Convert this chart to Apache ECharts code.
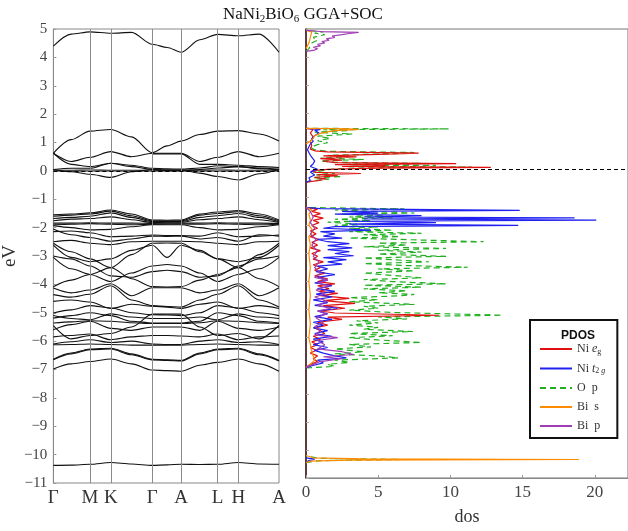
<!DOCTYPE html>
<html><head><meta charset="utf-8">
<script src="https://cdn.jsdelivr.net/npm/echarts@6/dist/echarts.min.js"></script>
<style>html,body{margin:0;padding:0;background:#fff}#c{width:628px;height:531px}</style>
</head><body><div id="c"></div>
<script>
// ---- k-path ----
const kPos = [0,18,37,58,79,100,115,129,148,166,187,208,228];
const kTickPos = [0,37,58,100,129,166,187,228];
const kTickLabels = ['Γ','M','K','Γ','A','L','H','A'];
const yTicks = [-11,-10,-9,-8,-7,-6,-5,-4,-3,-2,-1,0,1,2,3,4,5];
const dosTicks = [0,5,10,15,20];

// ---- bands (eV at kPos; null = not drawn) ----
const bandsCond = [
 [4.40,4.82,4.90,4.85,4.88,4.46,4.35,4.18,4.62,4.81,4.76,4.82,4.18]
];
const bandsFermi = [
 [0.62,1.10,1.40,1.46,1.20,0.64,0.88,1.05,1.28,1.40,1.42,1.30,1.05],
 [0.62,0.33,0.48,0.68,0.50,0.62,0.62,0.62,0.33,0.48,0.68,0.50,0.62],
 [0.62,0.23,0.15,0.27,0.15,0.05,0.03,0.03,-0.08,-0.20,-0.32,-0.10,0.05],
 [0.05,0.09,0.09,0.27,0.20,0.09,0.07,0.06,0.10,0.18,0.15,0.10,0.06],
 [0.05,-0.03,-0.12,-0.23,-0.03,0.05,0.03,0.02,0.05,0.10,0.15,0.08,0.03],
 [0.02,0.02,0.03,0.02,0.02,0.02,0.01,0.01,0.02,0.03,0.02,0.02,0.02],
 [null,null,null,null,null,0.60,0.60,0.60,0.23,0.23,0.20,0.15,0.12]
];
const bandsTop = [
 [-1.55,-1.52,-1.48,-1.38,-1.52,-1.73,-1.74,-1.73,-1.52,-1.45,-1.40,-1.52,-1.73],
 [-1.60,-1.56,-1.52,-1.42,-1.58,-1.76,-1.77,-1.76,-1.56,-1.50,-1.44,-1.58,-1.76],
 [-1.68,-1.64,-1.60,-1.48,-1.64,-1.79,-1.79,-1.79,-1.64,-1.58,-1.50,-1.64,-1.79],
 [-1.76,-1.70,-1.68,-1.62,-1.72,-1.82,-1.81,-1.81,-1.72,-1.68,-1.62,-1.72,-1.82],
 [-1.84,-1.84,-1.83,-1.84,-1.84,-1.85,-1.84,-1.84,-1.84,-1.83,-1.84,-1.84,-1.85],
 [-1.90,-1.88,-1.86,-1.88,-1.90,-1.88,-1.87,-1.87,-1.88,-1.86,-1.88,-1.90,-1.88],
 [-1.93,-2.00,-2.08,-2.06,-1.97,-1.90,-1.90,-1.90,-2.00,-2.08,-2.06,-1.97,-1.90],
 [-2.14,-2.12,-2.18,-2.32,-2.30,-2.26,-2.28,-2.28,-2.30,-2.18,-2.32,-2.30,-2.26],
 [-2.05,-2.25,-2.35,-2.48,-2.40,-2.30,-2.31,-2.30,-2.40,-2.35,-2.48,-2.25,-2.30]
];
const bandsMid = [
 [-2.55,-2.85,-3.10,-3.41,-2.95,-2.55,-2.54,-2.55,-2.85,-3.10,-3.41,-2.95,-2.55],
 [-4.08,-3.85,-3.65,-3.41,-3.80,-4.08,-4.09,-4.08,-3.85,-3.65,-3.41,-3.80,-4.08],
 [-2.50,-2.45,-2.55,-2.60,-2.50,-2.48,-2.48,-2.48,-2.50,-2.55,-2.60,-2.50,-2.48],
 [-2.62,-3.05,-3.20,-3.10,-2.80,-2.62,-3.05,-2.62,-2.80,-3.10,-3.20,-3.05,-2.62],
 [-3.00,-3.10,-3.35,-3.70,-3.75,-3.55,-3.50,-3.55,-3.75,-3.70,-3.35,-3.10,-3.00],
 [-3.05,-3.45,-3.65,-3.90,-3.60,-3.35,-3.30,-3.35,-3.60,-3.90,-3.65,-3.45,-3.05]
];
const bandsLow = [
 [-4.13,-4.30,-4.20,-3.98,-4.40,-4.12,-4.12,-4.12,-4.30,-4.20,-3.98,-4.40,-4.12],
 [-4.36,-4.45,-4.35,-4.05,-4.55,-4.75,-4.78,-4.80,-4.55,-4.35,-4.05,-4.55,-4.80],
 [-4.60,-4.55,-4.62,-4.85,-4.70,-4.77,-4.80,-4.85,-4.70,-4.62,-4.85,-4.75,-4.85],
 [-5.01,-4.90,-4.75,-4.83,-5.00,-5.07,-5.08,-5.10,-5.00,-4.75,-4.83,-5.00,-5.10],
 [-5.10,-5.20,-5.25,-5.04,-5.15,-5.20,-5.20,-5.20,-5.15,-5.25,-5.04,-5.15,-5.20],
 [-5.19,-5.10,-5.00,-5.10,-5.30,-5.36,-5.36,-5.36,-5.30,-5.00,-5.10,-5.30,-5.36],
 [-5.36,-5.32,-5.28,-5.30,-5.35,-5.38,-5.38,-5.38,-5.35,-5.28,-5.30,-5.35,-5.38],
 [-5.60,-5.42,-5.30,-5.55,-5.62,-5.50,-5.50,-5.50,-5.62,-5.30,-5.55,-5.62,-5.50],
 [-5.45,-5.92,-5.80,-5.73,-5.50,-5.05,-5.05,-5.05,-5.50,-5.80,-5.73,-5.92,-5.45],
 [-5.85,-5.80,-5.75,-5.95,-5.85,-5.80,-5.80,-5.82,-5.85,-5.75,-5.95,-5.85,-5.82],
 [-6.13,-6.12,-6.10,-6.12,-6.14,-6.14,-6.14,-6.14,-6.12,-6.10,-6.12,-6.14,-6.14],
 [-6.10,-6.02,-5.95,-6.05,-6.00,-6.10,-6.12,-6.12,-6.00,-5.95,-6.05,-6.02,-6.12],
 [-6.64,-6.42,-6.28,-6.25,-6.45,-6.64,-6.66,-6.68,-6.42,-6.28,-6.25,-6.45,-6.68],
 [-6.66,-6.45,-6.30,-6.28,-6.48,-6.66,-6.68,-6.70,-6.45,-6.30,-6.28,-6.48,-6.70],
 [-6.98,-6.80,-6.72,-6.63,-6.80,-7.02,-7.04,-7.06,-6.85,-6.75,-6.63,-6.80,-7.06]
];
const bandsBis = [
 [-10.38,-10.37,-10.34,-10.28,-10.33,-10.38,-10.36,-10.34,-10.35,-10.34,-10.28,-10.33,-10.34]
];

// ---- PDOS: [energy (eV), dos] ----
const egCond = [[-0.46,0],[-0.40,0.8],[-0.34,1.4],[-0.29,0.6],[-0.23,2.2],[-0.19,0.8],[-0.15,3.8],[-0.11,0.7],[-0.05,0.4],[0.0,1.5],[0.04,5],[0.07,12.8],[0.10,2.5],[0.14,5.5],[0.17,2],[0.20,10.4],[0.24,2],[0.29,1.2],[0.33,2.5],[0.38,1.0],[0.44,3.5],[0.48,1.2],[0.53,5],[0.58,7.8],[0.62,1.5],[0.66,0.6],[0.72,0.3],[0.85,0.4],[1.0,0.3],[1.15,0.5],[1.3,0.3],[1.42,0.5],[1.46,0]];
const egVal = [[-7.05,0],[-6.95,0.3],[-6.85,0.8],[-6.75,0.5],[-6.65,0.8],[-6.55,0.3],[-6.45,0.7],[-6.35,0.3],[-6.25,0.8],[-6.15,0.4],[-6.05,1.0],[-5.95,0.5],[-5.85,1.3],[-5.75,1.0],[-5.65,0.6],[-5.55,1.5],[-5.45,0.8],[-5.35,2.5],[-5.27,1.5],[-5.2,9.2],[-5.12,2.0],[-5.05,1.0],[-4.95,2.7],[-4.86,1.2],[-4.78,3.4],[-4.68,1.2],[-4.6,3.0],[-4.5,1.0],[-4.42,2.2],[-4.35,0.9],[-4.25,1.6],[-4.15,0.8],[-4.08,2.0],[-4.0,0.8],[-3.9,1.5],[-3.8,0.6],[-3.7,1.3],[-3.6,0.6],[-3.5,1.0],[-3.4,0.5],[-3.3,1.2],[-3.2,0.5],[-3.1,0.8],[-3.0,0.4],[-2.9,1.0],[-2.8,0.3],[-2.7,0.8],[-2.6,0.4],[-2.5,0.9],[-2.4,0.3],[-2.3,0.7],[-2.2,0.3],[-2.1,0.8],[-2.0,0.4],[-1.9,0.9],[-1.82,0.5],[-1.74,1.2],[-1.66,0.5],[-1.58,1.0],[-1.5,0.4],[-1.42,0.8],[-1.36,0]];
const t2gCond = [[-0.46,0],[-0.4,0.3],[-0.3,0.2],[-0.2,0.6],[-0.1,0.3],[0.0,0.8],[0.1,0.3],[0.2,0.5],[0.3,0.6],[0.5,0.3],[0.7,0.1],[0.9,0.3],[1.0,0.5],[1.1,0.4],[1.2,0.6],[1.3,0.9],[1.38,0.6],[1.42,1.0],[1.46,0]];
const t2gVal = [[-7.08,0],[-7.0,0.4],[-6.9,1.2],[-6.8,0.8],[-6.72,2.8],[-6.65,2.0],[-6.55,1.2],[-6.45,0.6],[-6.35,1.5],[-6.25,0.5],[-6.15,1.2],[-6.05,0.5],[-5.95,1.8],[-5.85,0.6],[-5.75,1.5],[-5.65,0.5],[-5.55,1.2],[-5.45,0.5],[-5.35,1.8],[-5.25,0.6],[-5.15,1.5],[-5.05,0.8],[-4.95,2.2],[-4.85,0.6],[-4.75,1.5],[-4.65,0.5],[-4.55,1.8],[-4.45,0.7],[-4.35,2.0],[-4.25,0.8],[-4.15,1.8],[-4.05,0.6],[-3.95,1.5],[-3.85,0.8],[-3.75,2.0],[-3.65,0.7],[-3.55,1.5],[-3.45,0.8],[-3.38,2.5],[-3.3,1.5],[-3.22,2.8],[-3.15,1.2],[-3.08,3.3],[-3.0,2.0],[-2.93,3.0],[-2.86,1.5],[-2.8,3.2],[-2.72,1.5],[-2.65,3.0],[-2.58,1.5],[-2.5,0.8],[-2.45,2.5],[-2.38,1.2],[-2.3,2.0],[-2.22,1.0],[-2.17,4.5],[-2.1,1.2],[-2.04,2.0],[-2.0,14.7],[-1.95,3.0],[-1.9,9.0],[-1.85,3.0],[-1.81,20.1],[-1.77,4.0],[-1.73,18.6],[-1.7,4.0],[-1.65,8.0],[-1.6,2.0],[-1.56,5.0],[-1.5,2.5],[-1.46,14.8],[-1.4,1.0],[-1.36,0]];
const t2gBis = [[-10.44,0],[-10.38,0.2],[-10.33,0.6],[-10.28,0]];
const opTop = [[4.2,0],[4.3,0.2],[4.4,0.3],[4.5,0.4],[4.6,0.8],[4.7,0.5],[4.8,1.3],[4.85,0.6],[4.9,1.2],[4.95,0]];
const opCond = [[-0.46,0],[-0.40,0.6],[-0.35,1.6],[-0.3,0.5],[-0.26,2.5],[-0.2,0.7],[-0.15,2.0],[-0.1,0.5],[-0.03,0.4],[0.02,2],[0.05,4],[0.08,11.5],[0.11,3],[0.14,9],[0.18,2.5],[0.21,8],[0.25,2],[0.3,1],[0.35,4],[0.4,1],[0.45,3],[0.5,1.5],[0.56,6],[0.6,7.5],[0.64,1.5],[0.7,0.6],[0.78,0.3],[0.88,0.8],[0.95,1.5],[1.02,0.8],[1.1,1.7],[1.18,0.8],[1.26,3.2],[1.32,0.6],[1.38,3.0],[1.41,1.2],[1.44,9.9],[1.46,0]];
const opVal = [[-7.08,0],[-7.02,2],[-6.95,1.5],[-6.88,3],[-6.8,2],[-6.72,6.4],[-6.65,5],[-6.58,2],[-6.5,4],[-6.4,2],[-6.33,4.5],[-6.24,3],[-6.17,8],[-6.08,5],[-6.0,3],[-5.93,6],[-5.85,3],[-5.78,7.4],[-5.7,4],[-5.63,5],[-5.55,3],[-5.47,5],[-5.4,3.5],[-5.33,7],[-5.26,5],[-5.2,13.6],[-5.1,6],[-5.02,3],[-4.95,5],[-4.88,4],[-4.81,7.5],[-4.72,3],[-4.65,5],[-4.57,3],[-4.51,6.5],[-4.46,7.5],[-4.4,5],[-4.33,7],[-4.26,4],[-4.2,8],[-4.13,4],[-4.08,9.7],[-4.0,6],[-3.93,4],[-3.87,8],[-3.78,6],[-3.7,4],[-3.62,7.5],[-3.55,5],[-3.49,11.2],[-3.43,7],[-3.36,4],[-3.3,8.5],[-3.22,6],[-3.16,4],[-3.1,9.7],[-3.02,5],[-2.95,8],[-2.88,5],[-2.82,9.7],[-2.76,4],[-2.7,7],[-2.63,5],[-2.58,12.3],[-2.52,8],[-2.45,3],[-2.4,6.5],[-2.33,4],[-2.28,8],[-2.22,3],[-2.17,6],[-2.1,3],[-2.05,5],[-2.0,2],[-1.95,3.5],[-1.88,1.5],[-1.83,4.5],[-1.78,2],[-1.73,6],[-1.7,3],[-1.66,5.4],[-1.6,2.5],[-1.56,7.5],[-1.5,4.5],[-1.45,2],[-1.41,6.8],[-1.36,0]];
const opBis = [[-10.45,0],[-10.38,1],[-10.34,6.6],[-10.3,1],[-10.22,0]];
const bisTop = [[4.3,0],[4.5,0.2],[4.7,0.3],[4.9,0.4],[4.95,0]];
const bisCond = [[0.9,0],[1.0,0.3],[1.1,0.5],[1.2,0.6],[1.28,1.0],[1.34,1.6],[1.38,2.0],[1.42,3.65],[1.44,3.0],[1.46,0]];
const bisVal = [[-7.05,0],[-7.0,0.2],[-6.8,0.6],[-6.5,0.4],[-6.0,0.2],[-5.5,0.3],[-5.0,0.2],[-4.5,0.3],[-4.0,0.2],[-3.5,0.3],[-3.0,0.2],[-2.7,0.3],[-2.4,0.2],[-2.2,0.5],[-2.0,0.2],[-1.8,0.3],[-1.6,0.2],[-1.45,0.4],[-1.36,0]];
const bisBis = [[-10.45,0],[-10.4,0.3],[-10.36,3],[-10.34,18.9],[-10.32,4],[-10.28,0.5],[-10.2,0]];
const bipTop = [[4.2,0],[4.25,0.6],[4.3,0.8],[4.35,0.5],[4.4,1.0],[4.45,0.8],[4.5,1.3],[4.55,1.1],[4.6,1.6],[4.65,1.4],[4.7,2.0],[4.75,1.8],[4.8,2.5],[4.84,3.0],[4.88,3.65],[4.91,1.0],[4.95,0]];
const bipVal = [[-7.05,0],[-6.95,0.5],[-6.85,1.0],[-6.75,2.5],[-6.68,1.2],[-6.6,3.3],[-6.5,2.5],[-6.4,0.8],[-6.25,1.3],[-6.1,0.8],[-6.0,2.2],[-5.9,0.6],[-5.75,1.0],[-5.6,0.6],[-5.45,1.2],[-5.3,0.7],[-5.15,1.4],[-5.05,0.8],[-4.95,1.7],[-4.85,0.8],[-4.7,1.5],[-4.55,0.6],[-4.45,1.3],[-4.3,0.7],[-4.15,1.6],[-4.05,0.8],[-3.95,1.5],[-3.85,0.6],[-3.7,1.0],[-3.5,0.6],[-3.3,0.9],[-3.1,0.5],[-2.9,0.8],[-2.7,0.4],[-2.5,0.7],[-2.3,0.3],[-2.1,0.6],[-1.9,0.3],[-1.7,0.5],[-1.5,0.3],[-1.36,0]];

const SERIF = 'Liberation Serif, DejaVu Serif, serif';
const chart = echarts.init(document.getElementById('c'), null, {renderer:'canvas'});

const allBands = [].concat(bandsCond, bandsFermi, bandsTop, bandsMid, bandsLow, bandsBis);
const series = [];
allBands.forEach((b, bi) => {
  const data = [];
  kPos.forEach((k, i) => { if (b[i] !== null) data.push([k, b[i]]); });
  const s = {
    type:'line', xAxisIndex:0, yAxisIndex:0, data, smooth:0.3, smoothMonotone:'x',
    showSymbol:false, symbol:'none', silent:true, animation:false,
    lineStyle:{color:'#111', width:1.1}
  };
  if (bi === 0) {
    s.markLine = {
      silent:true, symbol:['none','none'], animation:false,
      data: kTickPos.map((k, i) => {
        const edge = (i===0||i===kTickPos.length-1);
        return {
          xAxis:k, name:kTickLabels[i],
          lineStyle:{color: edge ? 'rgba(0,0,0,0)' : '#8a8a8a', width:1, type:'solid'},
          label:{show:true, position:'start', formatter:kTickLabels[i], distance:6,
                 fontFamily:SERIF, fontSize:19, color:'#333'}
        };
      }).concat([{yAxis:0, lineStyle:{color:'#000', width:1.2, type:[4,3]}, label:{show:false}}])
    };
  }
  series.push(s);
});

function dosSeries(name, color, arr, dashed, extra) {
  const s = {
    type:'line', name, xAxisIndex:1, yAxisIndex:1,
    data: arr.map(p => [p[1], p[0]]),
    showSymbol:false, symbol:'none', silent:true, animation:false,
    lineStyle:{color, width:1.2, type: dashed ? [6,4] : 'solid'},
    itemStyle:{color}
  };
  if (extra) Object.assign(s, extra);
  return s;
}
const RED='#e01010', BLUE='#2020f0', GREEN='#22b022', ORANGE='#ff8c00', PURPLE='#a03cb4';
series.push(dosSeries('O p', GREEN, opVal, true));
series.push(dosSeries('O p', GREEN, opCond, true));
series.push(dosSeries('O p', GREEN, opTop, true));
series.push(dosSeries('O p', GREEN, opBis, true));
series.push(dosSeries('Ni eg', RED, egVal, false));
series.push(dosSeries('Ni eg', RED, egCond, false));
series.push(dosSeries('Ni t2g', BLUE, t2gVal, false));
series.push(dosSeries('Ni t2g', BLUE, t2gCond, false));
series.push(dosSeries('Ni t2g', BLUE, t2gBis, false));
series.push(dosSeries('Bi s', ORANGE, bisVal, false));
series.push(dosSeries('Bi s', ORANGE, bisCond, false));
series.push(dosSeries('Bi s', ORANGE, bisTop, false));
series.push(dosSeries('Bi s', ORANGE, bisBis, false));
series.push(dosSeries('Bi p', PURPLE, bipVal, false));
series.push(dosSeries('Bi p', PURPLE, bipTop, false, {
  markLine:{silent:true, symbol:['none','none'], animation:false,
    data:[{yAxis:0}], label:{show:false},
    lineStyle:{color:'#000', width:1.2, type:[4,3]}}
}));

const legendLabel = {
  'Ni eg':'Ni {it|e}{sub|g}',
  'Ni t2g':'Ni {it|t}{sub|2 }{subi|g}',
  'O p':'O  p',
  'Bi s':'Bi  s',
  'Bi p':'Bi  p'
};

chart.setOption({
  backgroundColor:'#fff',
  animation:false,
  title:[
    {text:'NaNi{s|2}BiO{s|6} GGA+SOC', left:298, textAlign:'center', top:0,
     textStyle:{fontFamily:SERIF, fontSize:17, fontWeight:'normal', color:'#111',
       rich:{s:{fontFamily:SERIF, fontSize:11, verticalAlign:'bottom', padding:[9,0,0,0], color:'#111'}}}},
    {text:'PDOS', left:573, textAlign:'center', top:325,
     textStyle:{fontFamily:'Liberation Sans, Arial, sans-serif', fontSize:12, fontWeight:'bold', color:'#111'}}
  ],
  grid:[
    {left:51, top:29, width:228, height:454, show:true, borderColor:'#888', borderWidth:1, backgroundColor:'transparent'},
    {left:306, top:29, width:330, height:454, show:true, borderColor:'#777', borderWidth:1, backgroundColor:'transparent'}
  ],
  xAxis:[
    {gridIndex:0, type:'value', min:0, max:228,
     axisLine:{show:true, lineStyle:{color:'#888'}}, axisTick:{show:false}, axisLabel:{show:false}, splitLine:{show:false}},
    {gridIndex:1, type:'value', min:0, max:22.3, interval:5,
     axisLine:{show:true, onZero:false, lineStyle:{color:'#888'}},
     axisTick:{show:true, inside:true, length:3, lineStyle:{color:'#999'}},
     axisLabel:{fontFamily:SERIF, fontSize:17, color:'#444', margin:6, showMaxLabel:false,
       formatter:v => dosTicks.includes(v) ? String(v) : ''},
     splitLine:{show:false},
     name:'dos', nameLocation:'middle', nameGap:30,
     nameTextStyle:{fontFamily:SERIF, fontSize:18, color:'#333'}}
  ],
  yAxis:[
    {gridIndex:0, type:'value', min:-11, max:5, interval:1,
     axisLine:{show:true, onZero:false, lineStyle:{color:'#888'}},
     axisTick:{show:true, inside:true, length:3, lineStyle:{color:'#999'}},
     axisLabel:{fontFamily:SERIF, fontSize:15, color:'#444', margin:6,
       formatter:v => yTicks.includes(v) ? String(v).replace('-', '\u2212') : ''},
     splitLine:{show:false},
     name:'eV', nameLocation:'middle', nameGap:30, nameRotate:90,
     nameTextStyle:{fontFamily:SERIF, fontSize:19, color:'#333'}},
    {gridIndex:1, type:'value', min:-11, max:5, interval:1,
     axisLine:{show:true, onZero:false, lineStyle:{color:'#3a1212', width:1.5}},
     axisTick:{show:true, inside:true, length:3, lineStyle:{color:'#aaa'}},
     axisLabel:{show:false}, splitLine:{show:false}}
  ],
  legend:{
    show:true, orient:'vertical', left:530, top:320, width:86,
    data:['Ni eg','Ni t2g','O p','Bi s','Bi p'],
    padding:[23,12,6,9], itemGap:7, itemWidth:32, itemHeight:12,
    borderColor:'#111', borderWidth:2, backgroundColor:'#fff',
    selectedMode:false,
    itemStyle:{opacity:0, borderWidth:0},
    formatter: n => legendLabel[n],
    textStyle:{fontFamily:SERIF, fontSize:12, color:'#333',
      rich:{
        it:{fontFamily:SERIF, fontSize:12, fontStyle:'italic', color:'#333'},
        sub:{fontFamily:SERIF, fontSize:8, color:'#333', verticalAlign:'bottom', padding:[5,0,0,0]},
        subi:{fontFamily:SERIF, fontSize:8, fontStyle:'italic', color:'#333', verticalAlign:'bottom', padding:[5,0,0,0]}
      }}
  },
  series
});
</script></body></html>
